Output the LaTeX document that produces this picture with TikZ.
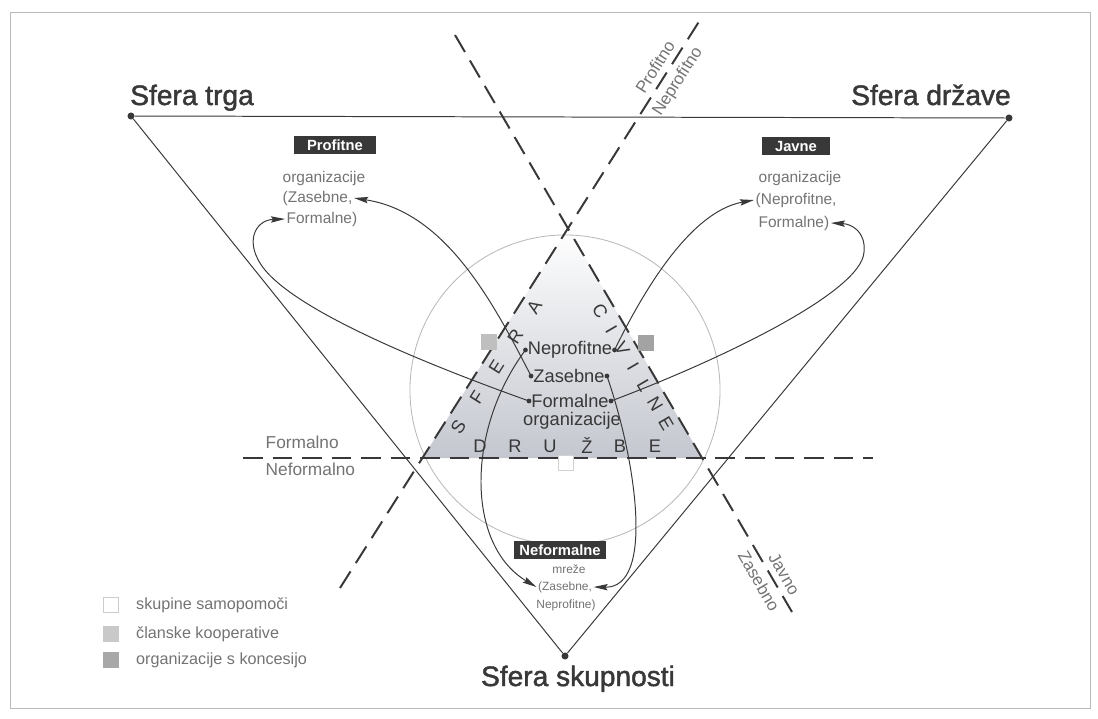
\documentclass[tikz,border=0pt]{standalone}
\usepackage{fontspec}
\setmainfont{Liberation Sans}
\newfontfamily\spherefont[FakeBold=1.6]{Liberation Sans}
\usetikzlibrary{positioning, arrows.meta, calc}

\definecolor{ink}{gray}{0.22}
\definecolor{soft}{gray}{0.45}
\definecolor{shade}{RGB}{196,199,207}

\begin{document}
\begin{tikzpicture}[
    x=0.025cm, y=-0.025cm,
    sphere/.style={font=\spherefont\fontsize{20}{22}\selectfont, text=ink, inner sep=0pt},
    tag/.style={fill=ink, text=white, font=\fontsize{10.5}{12}\selectfont\bfseries, inner xsep=9pt, inner ysep=1pt, minimum height=12.5pt},
    graytext/.style={text=soft, font=\fontsize{11}{13}\selectfont, inner sep=1pt},
    linetext/.style={text=soft, font=\fontsize{12}{14}\selectfont, inner sep=0pt},
    smalltext/.style={text=soft, font=\fontsize{8.5}{10}\selectfont, inner sep=1pt},
    core/.style={text=ink, font=\fontsize{13}{15}\selectfont, inner sep=1.5pt},
    letter/.style={text=ink, font=\fontsize{13}{15}\selectfont, inner sep=0pt},
    divider/.style={ink, line width=1.4pt, dash pattern=on 14pt off 7pt},
    side/.style={ink, line width=0.7pt},
    arr/.style={ink, line width=0.7pt, -{Stealth[length=10pt, width=4.5pt, inset=1.5pt]}},
    corner/.style={circle, fill=ink, inner sep=0pt, minimum size=5pt},
    sq/.style={minimum size=11pt, inner sep=0pt},
]
\useasboundingbox (0,0) rectangle (1098,718);

% Frame
\draw[gray!55, line width=0.6pt] (10,12) rectangle (1090,708);

% Divider ends
\coordinate (p1) at (340,588);
\coordinate (p2) at (700,20);
\coordinate (j1) at (455,35);
\coordinate (j2) at (792,612);
\coordinate (f1) at (243,458);
\coordinate (f2) at (873,458);

% Civil society triangle
\shade[top color=white, bottom color=shade]
    (intersection of p1--p2 and j1--j2) --
    (intersection of p1--p2 and f1--f2) --
    (intersection of j1--j2 and f1--f2) -- cycle;

\draw[gray!55, line width=0.6pt] (565,390) circle [radius=3.875cm];

% Spheres
\node[corner] (trgaPt) at (131,116) {};
\node[corner] (drzPt) at (1009,118) {};
\node[corner] (skupPt) at (565,656) {};
\draw[side] (trgaPt) -- (drzPt) -- (skupPt) -- (trgaPt);

\node[sphere, anchor=base west] (trga) at (130,105) {Sfera trga};
\node[sphere, anchor=base east] (drz) at (1011,105) {Sfera države};
\node[sphere, anchor=base] (skup) at (578,686) {Sfera skupnosti};

% Dividers
\draw[divider] (f1) -- (f2);
\draw[divider] (p1) -- (p2)
    node[linetext, sloped, above=4pt, pos=0.905] (profLbl) {Profitno}
    node[linetext, sloped, below=4pt, pos=0.905] (neprofLbl) {Neprofitno};
\draw[divider] (j1) -- (j2)
    node[linetext, sloped, above=4pt, pos=0.945] (javLbl) {Javno}
    node[linetext, sloped, below=4pt, pos=0.935] (zasLbl) {Zasebno};

\node[graytext, anchor=west, font=\fontsize{12.3}{14}\selectfont] (formLbl) at (264,442) {Formalno};
\node[graytext, anchor=west, font=\fontsize{12.3}{14}\selectfont] (neformLbl) at (264,469) {Neformalno};

% Letters along the triangle
\foreach \ch [count=\i] in {S,F,E,R,A} {
    \pgfmathsetmacro{\t}{0.296+0.053*(\i-1)}
    \path (p1) -- (p2) node[letter, sloped, below=5pt, pos=\t] {\ch};
}
\foreach \ch [count=\i] in {C,I,V,I,L,N,E} {
    \pgfmathsetmacro{\t}{0.466+0.0325*(\i-1)}
    \path (j1) -- (j2) node[letter, sloped, below=5pt, pos=\t] {\ch};
}
\foreach \ch/\xx in {D/480,R/515,U/550,Ž/587,B/620,E/655}
    \node[letter] at (\xx,446) {\ch};

% Squares
\node[sq, fill=gray!50] (coopSq) at (489,342) {};
\node[sq, fill=gray!72] (concSq) at (646,343) {};
\node[sq, fill=white, draw=gray!35, line width=0.4pt] (selfSq) at (566,463) {};

% Centre
\node[core] (neprof) at (570,350) {Neprofitne};
\node[core] (zaseb) at (569,376) {Zasebne};
\node[core] (formal) at (570,401) {Formalne};
\node[core] (orgc) at (572,421) {organizacije};
\foreach \n in {neprof, zaseb, formal} {
    \fill[ink] (\n.west) circle (1.7pt);
    \fill[ink] (\n.east) circle (1.7pt);
}

% Profitne
\node[tag] (profTag) at (335,145) {Profitne};
\node[graytext, anchor=west] (pOrg) at (281,178) {organizacije};
\node[graytext, anchor=west] (pZas) at (281,198) {(Zasebne,};
\node[graytext, anchor=west] (pFor) at (285,219) {Formalne)};

% Javne
\node[tag] (javTag) at (796,146) {Javne};
\node[graytext, anchor=west] (jOrg) at (757,178) {organizacije};
\node[graytext, anchor=west] (jNep) at (754,200) {(Neprofitne,};
\node[graytext, anchor=west] (jFor) at (757,223) {Formalne)};

% Neformalne
\node[tag, inner xsep=4pt] (nefTag) at (560,550) {Neformalne};
\node[smalltext] (nMre) at (569,569) {mreže};
\node[smalltext] (nZas) at (565,587) {(Zasebne,};
\node[smalltext] (nNep) at (566,605) {Neprofitne)};

% Arrows
\draw[arr] (formal.west) .. controls (420,362) and (300,312) .. (265,270)
    .. controls (243,243) and (255,220) .. (pFor.west);
\draw[arr] (zaseb.west) .. controls (492,300) and (445,212) .. (pZas.east);
\draw[arr] (neprof.west) .. controls (466,430) and (466,545) .. (nZas.west);
\draw[arr] (zaseb.east) .. controls (636,460) and (655,588) .. (nZas.east);
\draw[arr] (neprof.east) .. controls (640,298) and (688,212) .. (jNep.west);
\draw[arr] (formal.east) .. controls (720,360) and (862,292) .. (864,252)
    .. controls (866,232) and (852,224) .. (jFor.east);

% Legend
\node[sq, fill=white, draw=gray!40, line width=0.4pt] (lgSelf) at (111,605) {};
\node[sq, fill=gray!42] (lgCoop) at (111,634) {};
\node[sq, fill=gray!68] (lgConc) at (111,660) {};
\node[graytext, right=11pt of lgSelf, font=\fontsize{11.5}{13}\selectfont] {skupine samopomoči};
\node[graytext, right=11pt of lgCoop, font=\fontsize{11.5}{13}\selectfont] {članske kooperative};
\node[graytext, right=11pt of lgConc, font=\fontsize{11.5}{13}\selectfont] {organizacije s koncesijo};

\end{tikzpicture}
\end{document}
